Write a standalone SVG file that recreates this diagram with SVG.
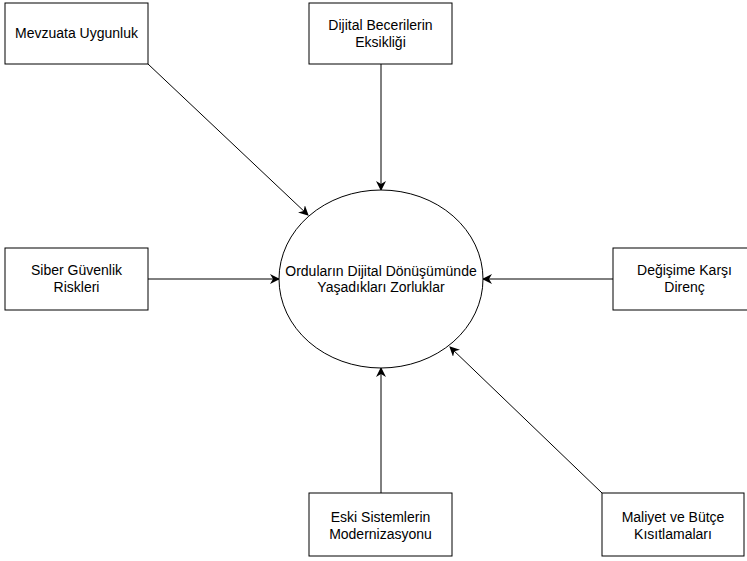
<svg xmlns="http://www.w3.org/2000/svg" width="747" height="561" viewBox="0 0 747 561">
<style>
.box{fill:#fff;stroke:#000;stroke-width:1}
.t{font-family:"Liberation Sans",Arial,sans-serif;font-size:14px;fill:#000;text-anchor:middle}
.c{fill:none;stroke:#000;stroke-width:1;marker-end:url(#arr)}
</style>
<defs>
<marker id="arr" viewBox="0 0 10 10" refX="9" refY="5" markerWidth="10" markerHeight="10" markerUnits="userSpaceOnUse" orient="auto">
<path d="M0,0 L10,5 L0,10 L3,5 Z" fill="#000"/>
</marker>
</defs>
<rect width="747" height="561" fill="#fff"/>
<g id="connectors">
<line class="c" x1="148" y1="64" x2="308" y2="215"/>
<line class="c" x1="381" y1="64" x2="381" y2="190"/>
<line class="c" x1="148" y1="279" x2="279" y2="279"/>
<line class="c" x1="613" y1="279" x2="483" y2="279"/>
<line class="c" x1="381" y1="493" x2="381" y2="368"/>
<line class="c" x1="602" y1="493" x2="450" y2="347"/>
</g>
<g id="center">
<ellipse cx="381" cy="279" rx="102" ry="89" fill="#fff" stroke="#000" stroke-width="1"/>
<text class="t" x="381" y="276">Orduların Dijital Dönüşümünde</text>
<text class="t" x="381" y="292">Yaşadıkları Zorluklar</text>
</g>
<g id="mevzuata">
<rect class="box" x="5" y="3" width="143" height="61"/>
<text class="t" x="76.5" y="38">Mevzuata Uygunluk</text>
</g>
<g id="dijital">
<rect class="box" x="309" y="3" width="143" height="61"/>
<text class="t" x="380.5" y="30">Dijital Becerilerin</text>
<text class="t" x="380.5" y="47">Eksikliği</text>
</g>
<g id="siber">
<rect class="box" x="5" y="248" width="143" height="62"/>
<text class="t" x="76.5" y="275">Siber Güvenlik</text>
<text class="t" x="76.5" y="292">Riskleri</text>
</g>
<g id="degisime">
<rect class="box" x="613" y="248" width="143" height="62"/>
<text class="t" x="684.5" y="275">Değişime Karşı</text>
<text class="t" x="684.5" y="292">Direnç</text>
</g>
<g id="eski">
<rect class="box" x="309" y="493" width="143" height="63"/>
<text class="t" x="380.5" y="522">Eski Sistemlerin</text>
<text class="t" x="380.5" y="539">Modernizasyonu</text>
</g>
<g id="maliyet">
<rect class="box" x="602" y="493" width="142" height="63"/>
<text class="t" x="673" y="522">Maliyet ve Bütçe</text>
<text class="t" x="673" y="539">Kısıtlamaları</text>
</g>
</svg>
